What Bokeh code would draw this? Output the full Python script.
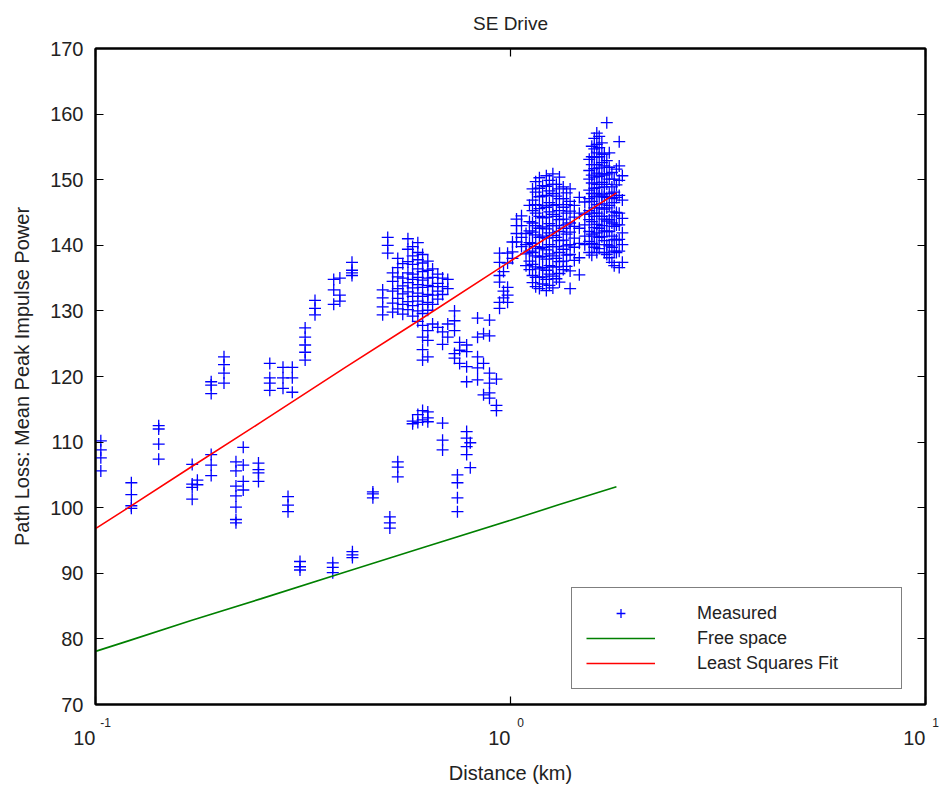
from bokeh.plotting import figure
from bokeh.models import (FixedTicker, LinearAxis, LogAxis, Legend, LegendItem,
                          Range1d, CustomJSTickFormatter)
from bokeh.embed import file_html
from bokeh.resources import INLINE

FONT = "Liberation Sans"

# ---------------- data ----------------
title_text = "SE Drive"
x_label = "Distance (km)"
y_label = "Path Loss: Mean Peak Impulse Power"

x_ticks = [0.1, 1, 10]
x_tick_base = ["10", "10", "10"]
x_tick_exp = ["-1", "0", "1"]
y_ticks = [70, 80, 90, 100, 110, 120, 130, 140, 150, 160, 170]

# measured samples, grouped as vertical stacks (distance km -> path loss dB)
stack_km = [
    0.103, 0.122, 0.142, 0.171, 0.176, 0.190, 0.204, 0.218, 0.227, 0.247,
    0.263, 0.283, 0.291, 0.298, 0.311, 0.320, 0.338, 0.373, 0.375, 0.388,
    0.415, 0.416, 0.466, 0.492, 0.506, 0.512, 0.520, 0.535, 0.550, 0.566,
    0.581, 0.598, 0.614, 0.632, 0.649, 0.668, 0.686, 0.706, 0.733, 0.745,
    0.754, 0.784, 0.800, 0.833, 0.861, 0.890, 0.925, 0.941, 0.962, 0.984,
    1.011, 1.034, 1.063, 1.090, 1.111, 1.130, 1.150, 1.174, 1.195, 1.220,
    1.241, 1.265, 1.290, 1.312, 1.340, 1.365, 1.392, 1.425, 1.465, 1.510,
    1.548, 1.570, 1.592, 1.614, 1.636, 1.660, 1.683, 1.706, 1.730, 1.755,
    1.778, 1.800, 1.828, 1.860,
]
stack_db = [
    [110.2, 108.8, 107.6, 105.6],
    [103.8, 102.0, 100.3, 99.9],
    [112.5, 112.0, 109.7, 107.4],
    [106.6, 103.6, 103.1, 101.3],
    [104.2, 103.5],
    [119.2, 118.7, 117.4, 108.1, 106.5, 104.9],
    [123.0, 121.8, 120.5, 119.0],
    [107.0, 105.6, 103.3, 101.8, 100.1, 98.2, 97.7],
    [109.2, 106.5, 104.0, 102.7],
    [106.8, 105.8, 105.3, 104.0],
    [122.0, 119.8, 119.0, 117.9],
    [121.4, 119.8, 118.2],
    [101.7, 100.4, 99.4],
    [121.4, 119.8, 117.6],
    [91.8, 91.0, 90.5],
    [127.4, 126.0, 124.8, 123.7, 122.5],
    [131.6, 130.4, 129.4],
    [91.6, 90.9, 90.1],
    [134.8, 133.2, 131.0],
    [135.0, 132.4, 131.5],
    [137.4, 136.2, 135.8, 135.4],
    [93.3, 92.8, 92.4],
    [102.4, 102.1, 101.5],
    [133.2, 132.0, 130.6, 129.4],
    [141.2, 140.0, 138.8],
    [98.6, 97.7, 96.9],
    [135.8, 134.5, 133.0, 131.2, 129.8],
    [138.0, 136.6, 135.2, 133.4, 131.9, 130.3, 107.0, 106.2, 104.7],
    [137.2, 135.0, 133.8, 132.6, 131.0, 129.5],
    [141.0, 139.4, 137.5, 135.8, 134.3, 132.9, 131.4, 130.2],
    [139.8, 138.4, 137.1, 135.6, 134.8, 133.5, 132.2, 130.8, 129.2, 113.2, 112.8],
    [140.4, 138.9, 137.8, 136.4, 135.1, 134.0, 132.7, 131.5, 130.0, 128.4, 114.2, 113.0],
    [138.6, 137.3, 136.0, 134.7, 133.6, 132.2, 131.0, 129.6, 127.8, 126.0, 124.1, 122.5, 114.8, 113.4],
    [137.6, 136.2, 135.0, 133.9, 132.5, 131.3, 130.1, 127.0, 125.5, 123.0, 114.6, 113.7, 113.1],
    [136.4, 135.1, 133.7, 132.4, 131.0, 128.0],
    [135.6, 134.2, 133.0, 131.8, 127.5],
    [135.0, 133.7, 132.5, 126.8, 124.9, 112.9, 110.3, 108.8],
    [134.8, 133.4, 128.0, 126.0],
    [130.0, 128.5, 127.0, 123.5, 122.8],
    [105.0, 103.8, 101.5, 99.4],
    [125.2, 124.0, 122.0],
    [124.8, 123.8, 121.5, 119.2, 111.6, 110.6, 109.3, 108.1],
    [109.9, 106.1],
    [128.9, 126.0, 123.0, 121.3, 119.5],
    [126.5, 122.0, 117.2],
    [128.6, 126.2, 120.5, 119.0, 117.5, 116.7],
    [119.6, 115.6, 114.8],
    [138.8, 137.4, 135.4, 134.4, 131.3, 130.4],
    [136.0, 133.0, 132.0],
    [138.8, 137.3, 133.6, 132.4, 131.3],
    [140.5, 139.0, 138.0],
    [144.0, 143.0, 141.8, 140.5],
    [144.5, 143.0, 141.2, 139.8],
    [141.8, 140.1, 138.7, 136.9],
    [146.1, 143.6, 142.2, 140.4, 139.1, 137.6, 136.3],
    [148.6, 146.9, 145.3, 143.4, 142.0, 140.3, 138.9, 137.1, 135.4, 134.3],
    [149.7, 148.1, 146.2, 144.9, 143.0, 141.6, 139.8, 138.4, 136.7, 135.1, 133.7],
    [150.3, 148.7, 147.4, 145.6, 144.4, 142.6, 141.2, 139.5, 138.2, 136.4, 135.1, 133.4],
    [149.1, 147.5, 146.1, 144.2, 142.8, 141.4, 139.7, 138.3, 136.6, 135.2, 134.1],
    [150.6, 149.0, 147.6, 145.8, 144.3, 142.5, 141.1, 139.3, 137.9, 136.2, 134.8, 133.1],
    [149.9, 148.3, 146.5, 145.1, 143.3, 141.9, 140.1, 138.7, 136.9, 135.6, 133.9],
    [150.9, 149.3, 147.9, 146.1, 144.7, 143.0, 141.5, 139.8, 138.4, 136.7, 135.3, 133.5],
    [149.3, 147.5, 146.2, 144.4, 143.0, 141.2, 139.8, 138.0, 136.7, 134.9],
    [150.4, 148.6, 147.1, 145.3, 143.9, 142.1, 140.7, 138.9, 137.5, 135.7, 134.4],
    [148.9, 147.1, 145.8, 144.0, 142.6, 140.8, 139.4, 137.6, 136.3],
    [148.0, 146.2, 144.9, 143.1, 141.7, 139.9, 138.5, 136.8],
    [148.6, 146.7, 145.2, 143.4, 142.0, 140.1, 138.6, 136.1, 133.4],
    [146.1, 144.3, 142.9, 141.1, 139.7, 137.7],
    [147.3, 144.9, 142.6, 140.3, 138.1, 135.5],
    [146.6, 144.7, 143.1, 141.4, 140.1],
    [153.1, 151.4, 150.1, 148.4, 147.1, 145.3, 143.9, 142.1, 140.6, 138.9],
    [155.1, 153.5, 152.3, 150.7, 149.5, 147.9, 146.7, 144.9, 143.6, 141.7, 140.3, 138.5],
    [156.3, 154.7, 153.4, 151.7, 150.4, 148.7, 147.4, 145.7, 144.4, 142.7, 141.4, 139.7],
    [157.1, 155.4, 154.1, 152.3, 151.0, 149.3, 147.9, 146.2, 144.9, 143.2, 141.9, 140.1, 138.9],
    [156.6, 154.9, 153.5, 151.8, 150.5, 148.8, 147.5, 145.7, 144.4, 142.6, 141.2, 139.5],
    [155.6, 153.9, 152.6, 150.9, 149.6, 147.7, 146.3, 144.4, 143.0, 141.3],
    [153.9, 152.1, 150.7, 148.9, 147.4, 145.5, 144.0, 142.2, 140.7, 138.9],
    [158.7, 152.9, 150.9, 149.3, 147.3, 145.7, 143.7, 142.1, 140.1, 138.6],
    [154.1, 151.9, 150.1, 147.9, 146.1, 143.9, 142.1, 139.9, 138.1],
    [151.1, 148.9, 147.1, 145.1, 143.4, 141.4, 139.7, 137.4],
    [150.1, 148.1, 146.5, 144.5, 142.9, 140.9, 139.1, 136.9],
    [151.6, 149.2, 147.3, 145.0, 143.1, 140.8, 138.9],
    [155.8, 152.1, 149.9, 147.6, 144.9, 143.1, 140.9, 139.1, 136.6],
    [150.6, 146.9, 144.1, 141.9, 140.1, 137.4],
]

free_km = [0.1, 0.12, 0.17, 0.25, 0.4, 0.6, 1.0, 1.3, 1.8]
free_db = [78.1, 79.7, 82.8, 86.1, 90.2, 93.7, 98.1, 100.4, 103.2]

fit_km = [0.1, 0.12, 0.17, 0.25, 0.4, 0.6, 1.0, 1.3, 1.8]
fit_db = [96.8, 100.0, 106.2, 113.0, 121.4, 128.5, 137.6, 142.2, 148.0]

legend_labels = ["Measured", "Free space", "Least Squares Fit"]

measured_km = [k for k, vals in zip(stack_km, stack_db) for _ in vals]
measured_db = [v for vals in stack_db for v in vals]

# ---------------- figure ----------------
p = figure(width=948, height=789, x_axis_type="log",
           x_range=Range1d(x_ticks[0], x_ticks[-1]),
           y_range=Range1d(y_ticks[0], y_ticks[-1]),
           output_backend="svg", toolbar_location=None,
           min_border_left=95, min_border_right=23,
           min_border_top=48, min_border_bottom=85)
p.background_fill_color = "white"
p.border_fill_color = "white"
p.grid.visible = False
p.outline_line_color = "black"
p.outline_line_width = 2
p.outline_line_alpha = 1
p.title.text = ""
p.title.standoff = 0
p.title.visible = False

ms = p.scatter(measured_km, measured_db, marker="cross", size=12,
               line_color="#0000ff", line_width=1.3)
fs = p.line(free_km, free_db, line_color="#008000", line_width=1.6)
ls = p.line(fit_km, fit_db, line_color="#ff0000", line_width=1.6)

blank = CustomJSTickFormatter(code="return '';")

def style_axis(ax):
    ax.axis_line_color = "black"
    ax.axis_line_width = 2
    ax.major_tick_in = 8
    ax.major_tick_out = 0
    ax.major_tick_line_color = "black"
    ax.major_tick_line_width = 1.2
    ax.minor_tick_line_color = None
    ax.major_label_text_font = FONT
    ax.major_label_text_font_size = "20px"
    ax.major_label_text_color = "#222222"
    ax.axis_label_text_font = FONT
    ax.axis_label_text_font_size = "20px"
    ax.axis_label_text_font_style = "normal"
    ax.axis_label_text_color = "#222222"

FIG_SP = "\u2007"  # figure space, used to nudge the base and exponent apart

# bottom axis 1 (next to the frame): ticks + raised exponents
xax = p.xaxis[0]
xax.ticker = FixedTicker(ticks=x_ticks)
style_axis(xax)
xax.major_label_overrides = {t: FIG_SP * 3 + e for t, e in zip(x_ticks, x_tick_exp)}
xax.major_label_text_font_size = "12px"
xax.major_label_standoff = 11

# bottom axis 2: the "10" bases and the axis title
xbase = LogAxis(ticker=FixedTicker(ticks=x_ticks))
style_axis(xbase)
xbase.axis_line_color = None
xbase.major_tick_line_color = None
xbase.major_label_overrides = {t: b + FIG_SP * 2 for t, b in zip(x_ticks, x_tick_base)}
xbase.major_label_standoff = -6
xbase.axis_label = x_label
xbase.axis_label_standoff = 10
p.add_layout(xbase, "below")

yax = p.yaxis[0]
yax.ticker = FixedTicker(ticks=y_ticks)
yax.axis_label = y_label
style_axis(yax)
yax.major_label_standoff = 12
yax.axis_label_standoff = 14

# top axis: ticks only, carries the chart title as its label
top = LogAxis(ticker=FixedTicker(ticks=x_ticks), formatter=blank)
style_axis(top)
top.major_label_text_font_size = "1px"
top.major_label_standoff = 0
top.axis_label = title_text
top.axis_label_text_font_size = "19px"
top.axis_label_standoff = 15
p.add_layout(top, "above")

right = LinearAxis(ticker=FixedTicker(ticks=y_ticks), formatter=blank)
style_axis(right)
right.major_label_text_font_size = "1px"
right.major_label_standoff = 0
p.add_layout(right, "right")

legend = Legend(items=[LegendItem(label=legend_labels[0], renderers=[ms]),
                       LegendItem(label=legend_labels[1], renderers=[fs]),
                       LegendItem(label=legend_labels[2], renderers=[ls])],
                location=(476, 15))
legend.border_line_color = "black"
legend.border_line_width = 1.5
legend.background_fill_color = "white"
legend.background_fill_alpha = 1
legend.label_text_font = FONT
legend.label_text_font_size = "18px"
legend.label_text_color = "#222222"
legend.glyph_width = 69
legend.glyph_height = 22
legend.label_height = 22
legend.label_width = 190
legend.label_standoff = 42
legend.padding = 14
legend.spacing = 3
legend.margin = 0
p.add_layout(legend)

open("out.html", "w").write(file_html(p, INLINE))
